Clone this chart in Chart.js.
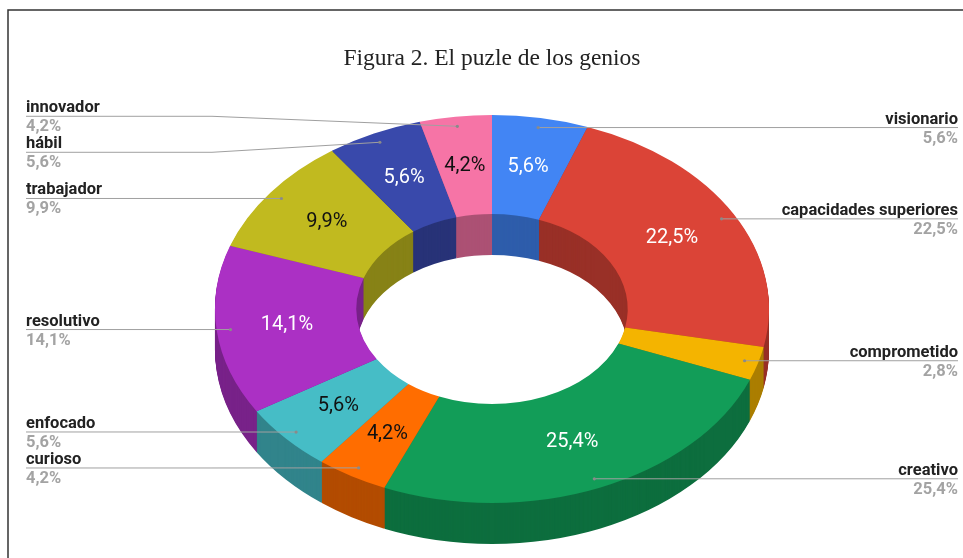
<!DOCTYPE html>
<html><head><meta charset="utf-8">
<script src="https://cdn.jsdelivr.net/npm/chart.js@4.4.1/dist/chart.umd.min.js"></script>
<style>html,body{margin:0;padding:0;background:#fff;overflow:hidden}canvas{display:block}</style>
</head><body>
<canvas id="c" width="963" height="558"></canvas>
<script>
const TITLE = 'Figura 2. El puzle de los genios';
const categories = ['visionario', 'capacidades superiores', 'comprometido', 'creativo', 'curioso', 'enfocado', 'resolutivo', 'trabajador', 'hábil', 'innovador'];
const percentages = [5.6, 22.5, 2.8, 25.4, 4.2, 5.6, 14.1, 9.9, 5.6, 4.2];

const topColors = ['#4285F4', '#DB4437', '#F4B400', '#129D58', '#FF6D00', '#46BDC6', '#AB30C4', '#C1BA1F', '#3949AB', '#F674A6'];
const innerTextColors = ['#ffffff', '#ffffff', '#111111', '#ffffff', '#111111', '#111111', '#ffffff', '#111111', '#ffffff', '#111111'];
function shade(hex, f) {
  const n = parseInt(hex.slice(1), 16);
  const r = Math.round(((n >> 16) & 255) * f), g = Math.round(((n >> 8) & 255) * f), b = Math.round((n & 255) * f);
  return 'rgb(' + r + ',' + g + ',' + b + ')';
}
const sideColors = topColors.map(c => shade(c, 0.7));

// projection of the donut
const RX = 277, RY = 194, DEPTH = 41;
const MIN_INNER_LABEL = 3;
const LABEL_GAP = 36;
const LEFT_X = 26, RIGHT_X = 958, LEFT_ELBOW = 212, RIGHT_ELBOW = 772;

function fmt(v) { return v.toFixed(1).replace('.', ',') + '%'; }
function project(ctx, cx, cy, sx, sy) { ctx.translate(cx, cy); ctx.scale(sx, sy); ctx.translate(-cx, -cy); }

function spread(items) {
  items.sort((a, b) => a.ay - b.ay);
  let clusters = items.map(it => ({ items: [it], sum: it.ay }));
  const place = c => {
    const mean = c.sum / c.items.length, n = c.items.length;
    c.items.forEach((it, k) => { it.ly = mean + (k - (n - 1) / 2) * LABEL_GAP; });
  };
  let changed = true;
  while (changed) {
    changed = false;
    clusters.forEach(place);
    for (let i = 0; i < clusters.length - 1; i++) {
      const a = clusters[i], b = clusters[i + 1];
      if (b.items[0].ly - a.items[a.items.length - 1].ly < LABEL_GAP - 0.01) {
        a.items = a.items.concat(b.items); a.sum += b.sum;
        clusters.splice(i + 1, 1); changed = true; break;
      }
    }
  }
  clusters.forEach(place);
}

const donut3d = {
  id: 'donut3d',
  beforeDraw(chart) {
    const ctx = chart.ctx;
    ctx.save();
    ctx.fillStyle = '#fff'; ctx.fillRect(0, 0, chart.width, chart.height);
    ctx.strokeStyle = '#333'; ctx.lineWidth = 1.5;
    ctx.beginPath(); ctx.moveTo(8, chart.height); ctx.lineTo(8, 10); ctx.lineTo(chart.width, 10); ctx.stroke();
    ctx.font = '23.5px "Liberation Serif"'; ctx.fillStyle = '#222'; ctx.textAlign = 'center'; ctx.textBaseline = 'alphabetic';
    ctx.fillText(TITLE, 492, 65);
    ctx.restore();
  },
  beforeDatasetsDraw(chart) {
    const ctx = chart.ctx, arcs = chart.getDatasetMeta(0).data;
    const cx = arcs[0].x, cy = arcs[0].y, R = arcs[0].outerRadius;
    const sx = RX / R, sy = RY / R;
    for (let d = DEPTH; d >= 1; d--) {
      ctx.save(); ctx.translate(0, d); project(ctx, cx, cy, sx, sy);
      arcs.forEach((arc, i) => {
        const o = arc.options;
        arc.options = Object.assign({}, o, { backgroundColor: sideColors[i], borderWidth: 0 });
        arc.draw(ctx);
        arc.options = o;
      });
      ctx.restore();
    }
    ctx.save(); project(ctx, cx, cy, sx, sy);
  },
  afterDatasetsDraw(chart) {
    const ctx = chart.ctx; ctx.restore();
    const arcs = chart.getDatasetMeta(0).data;
    const cx = arcs[0].x, cy = arcs[0].y, R = arcs[0].outerRadius;
    const sx = RX / R, sy = RY / R;
    const left = [], right = [];
    ctx.save();
    arcs.forEach((arc, i) => {
      const mid = (arc.startAngle + arc.endAngle) / 2;
      const pt = r => ({ x: cx + sx * r * Math.cos(mid), y: cy + sy * r * Math.sin(mid) });
      const v = percentages[i];
      if (v >= MIN_INNER_LABEL) {
        const p = pt((arc.innerRadius + arc.outerRadius) / 2);
        ctx.font = '20px Roboto'; ctx.fillStyle = innerTextColors[i];
        ctx.textAlign = 'center'; ctx.textBaseline = 'middle';
        ctx.fillText(fmt(v), p.x, p.y);
      }
      const a = pt(arc.outerRadius * 0.95);
      const item = { i, ax: a.x, ay: a.y };
      (Math.cos(mid) >= 0 ? right : left).push(item);
    });
    spread(left); spread(right);
    const drawItem = (it, isRight) => {
      ctx.strokeStyle = '#a0a0a0'; ctx.lineWidth = 1;
      ctx.beginPath();
      if (isRight) {
        ctx.moveTo(it.ax, it.ay); ctx.lineTo(RIGHT_ELBOW, it.ly); ctx.lineTo(RIGHT_X, it.ly);
      } else {
        ctx.moveTo(LEFT_X, it.ly); ctx.lineTo(LEFT_ELBOW, it.ly); ctx.lineTo(it.ax, it.ay);
      }
      ctx.stroke();
      ctx.fillStyle = '#8a8a8a'; ctx.beginPath(); ctx.arc(it.ax, it.ay, 1.6, 0, Math.PI * 2); ctx.fill();
      ctx.textAlign = isRight ? 'right' : 'left'; ctx.textBaseline = 'alphabetic';
      const tx = isRight ? RIGHT_X : LEFT_X;
      ctx.font = 'bold 16.5px Roboto'; ctx.fillStyle = '#222';
      ctx.fillText(categories[it.i], tx, it.ly - 4);
      ctx.fillStyle = '#a3a3a3';
      ctx.fillText(fmt(percentages[it.i]), tx, it.ly + 15);
    };
    left.forEach(it => drawItem(it, false));
    right.forEach(it => drawItem(it, true));
    ctx.restore();
  }
};

new Chart(document.getElementById('c'), {
  type: 'doughnut',
  data: {
    labels: categories,
    datasets: [{
      data: percentages,
      backgroundColor: topColors,
      borderWidth: 0,
      hoverOffset: 0,
      clip: false
    }]
  },
  options: {
    responsive: false,
    animation: false,
    devicePixelRatio: 1,
    events: [],
    cutout: '49%',
    layout: { padding: { left: 215, right: 194, top: 60, bottom: 0 } },
    plugins: { legend: { display: false }, title: { display: false }, tooltip: { enabled: false } }
  },
  plugins: [donut3d]
});
</script>
</body></html>
